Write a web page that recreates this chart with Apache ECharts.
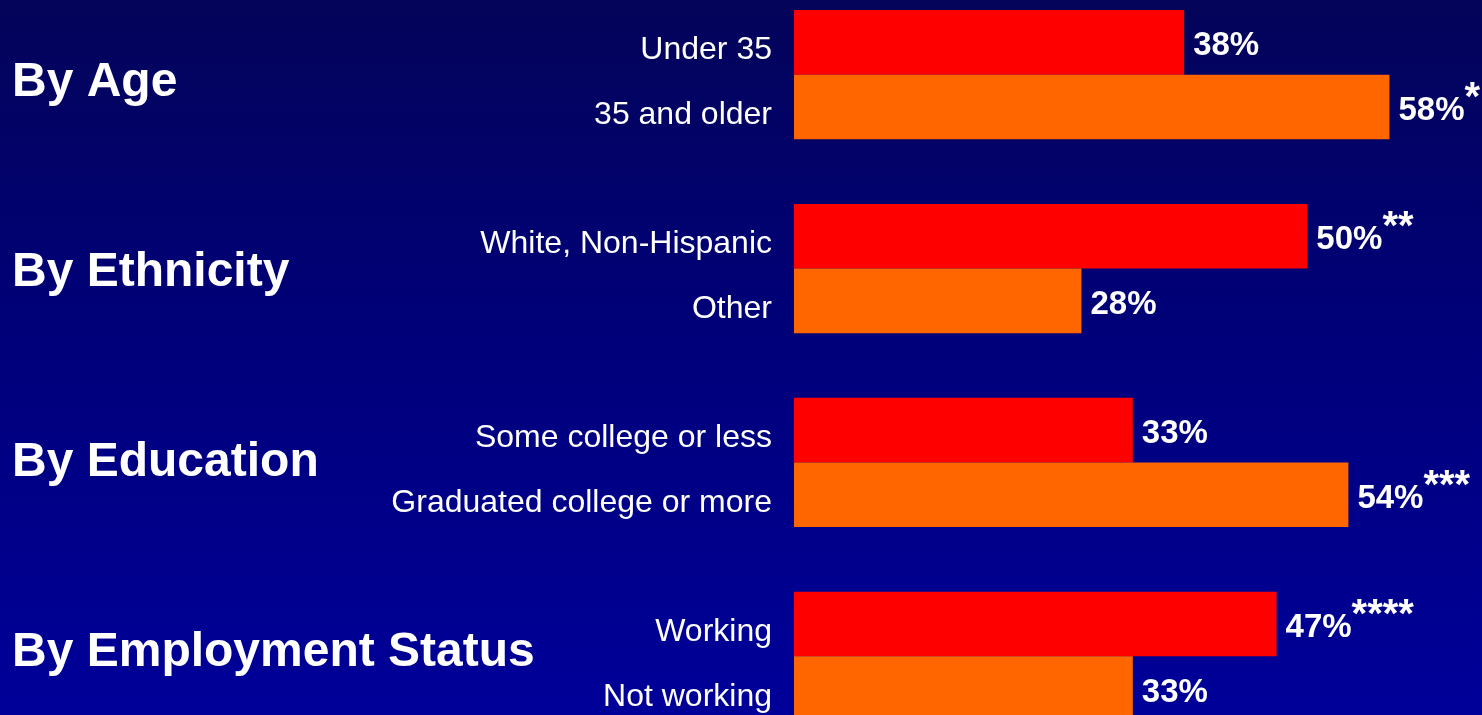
<!DOCTYPE html>
<html>
<head>
<meta charset="utf-8">
<script src="https://cdn.jsdelivr.net/npm/echarts@6/dist/echarts.min.js"></script>
<style>
html,body{margin:0;padding:0;width:1482px;height:715px;overflow:hidden;}
#chart{width:1482px;height:721px;}
</style>
</head>
<body>
<div id="chart"></div>
<script>
// Data
const groupTitles = ['By Age', 'By Ethnicity', 'By Education', 'By Employment Status'];
const categories = ['Under 35', '35 and older', '', 'White, Non-Hispanic', 'Other', '', 'Some college or less', 'Graduated college or more', '', 'Working', 'Not working'];
const values = [38, 58, null, 50, 28, null, 33, 54, null, 47, 33];
const notes = ['', '*', '', '**', '', '', '', '***', '', '****', ''];
const barColors = ['#ff0000', '#ff6600', null, '#ff0000', '#ff6600', null, '#ff0000', '#ff6600', null, '#ff0000', '#ff6600'];

const FONT = "'Liberation Sans', Arial, sans-serif";
const chart = echarts.init(document.getElementById('chart'), null, {renderer: 'canvas'});

const seriesData = values.map((v, i) => v === null ? '-' : {
  value: v,
  itemStyle: {color: barColors[i]},
  note: notes[i]
});

chart.setOption({
  backgroundColor: {
    type: 'linear', x: 0, y: 0, x2: 0, y2: 1,
    colorStops: [{offset: 0, color: '#04045a'}, {offset: 0.5, color: '#00007c'}, {offset: 1, color: '#00009a'}]
  },
  animation: false,
  grid: {left: 794, right: 72, top: 10, bottom: 0},
  xAxis: {type: 'value', min: 0, max: 60, show: false},
  yAxis: {
    type: 'category', inverse: true, data: categories,
    axisLine: {show: false}, axisTick: {show: false}, splitLine: {show: false},
    axisLabel: {color: '#ffffff', fontSize: 32, fontFamily: FONT, margin: 22, verticalAlign: 'top', lineHeight: 16}
  },
  series: [{
    type: 'bar',
    data: seriesData,
    barCategoryGap: '0%',
    label: {
      show: true, position: 'right', distance: 9, offset: [0, 4],
      formatter: function (p) {
        const n = p.data.note;
        return '{v|' + p.value + '%}' + (n ? '{s|' + n + '}' : '');
      },
      rich: {
        v: {color: '#ffffff', fontSize: 33, fontWeight: 'bold', fontFamily: FONT, lineHeight: 64},
        s: {color: '#ffffff', fontSize: 40, fontWeight: 'bold', fontFamily: FONT, lineHeight: 20, verticalAlign: 'top'}
      }
    }
  }]
});

function placeTitles() {
  const g = groupTitles.map((t, k) => {
    const y1 = chart.convertToPixel({yAxisIndex: 0}, categories[3 * k]);
    const y2 = chart.convertToPixel({yAxisIndex: 0}, categories[3 * k + 1]);
    const centre = (y1 + y2) / 2;
    return {
      type: 'text', x: 12, y: centre + 8 - k * 3.7,
      style: {text: t, fill: '#ffffff', font: 'bold 48px ' + FONT, verticalAlign: 'middle', align: 'left'}
    };
  });
  chart.setOption({graphic: g});
}
placeTitles();
</script>
</body>
</html>
